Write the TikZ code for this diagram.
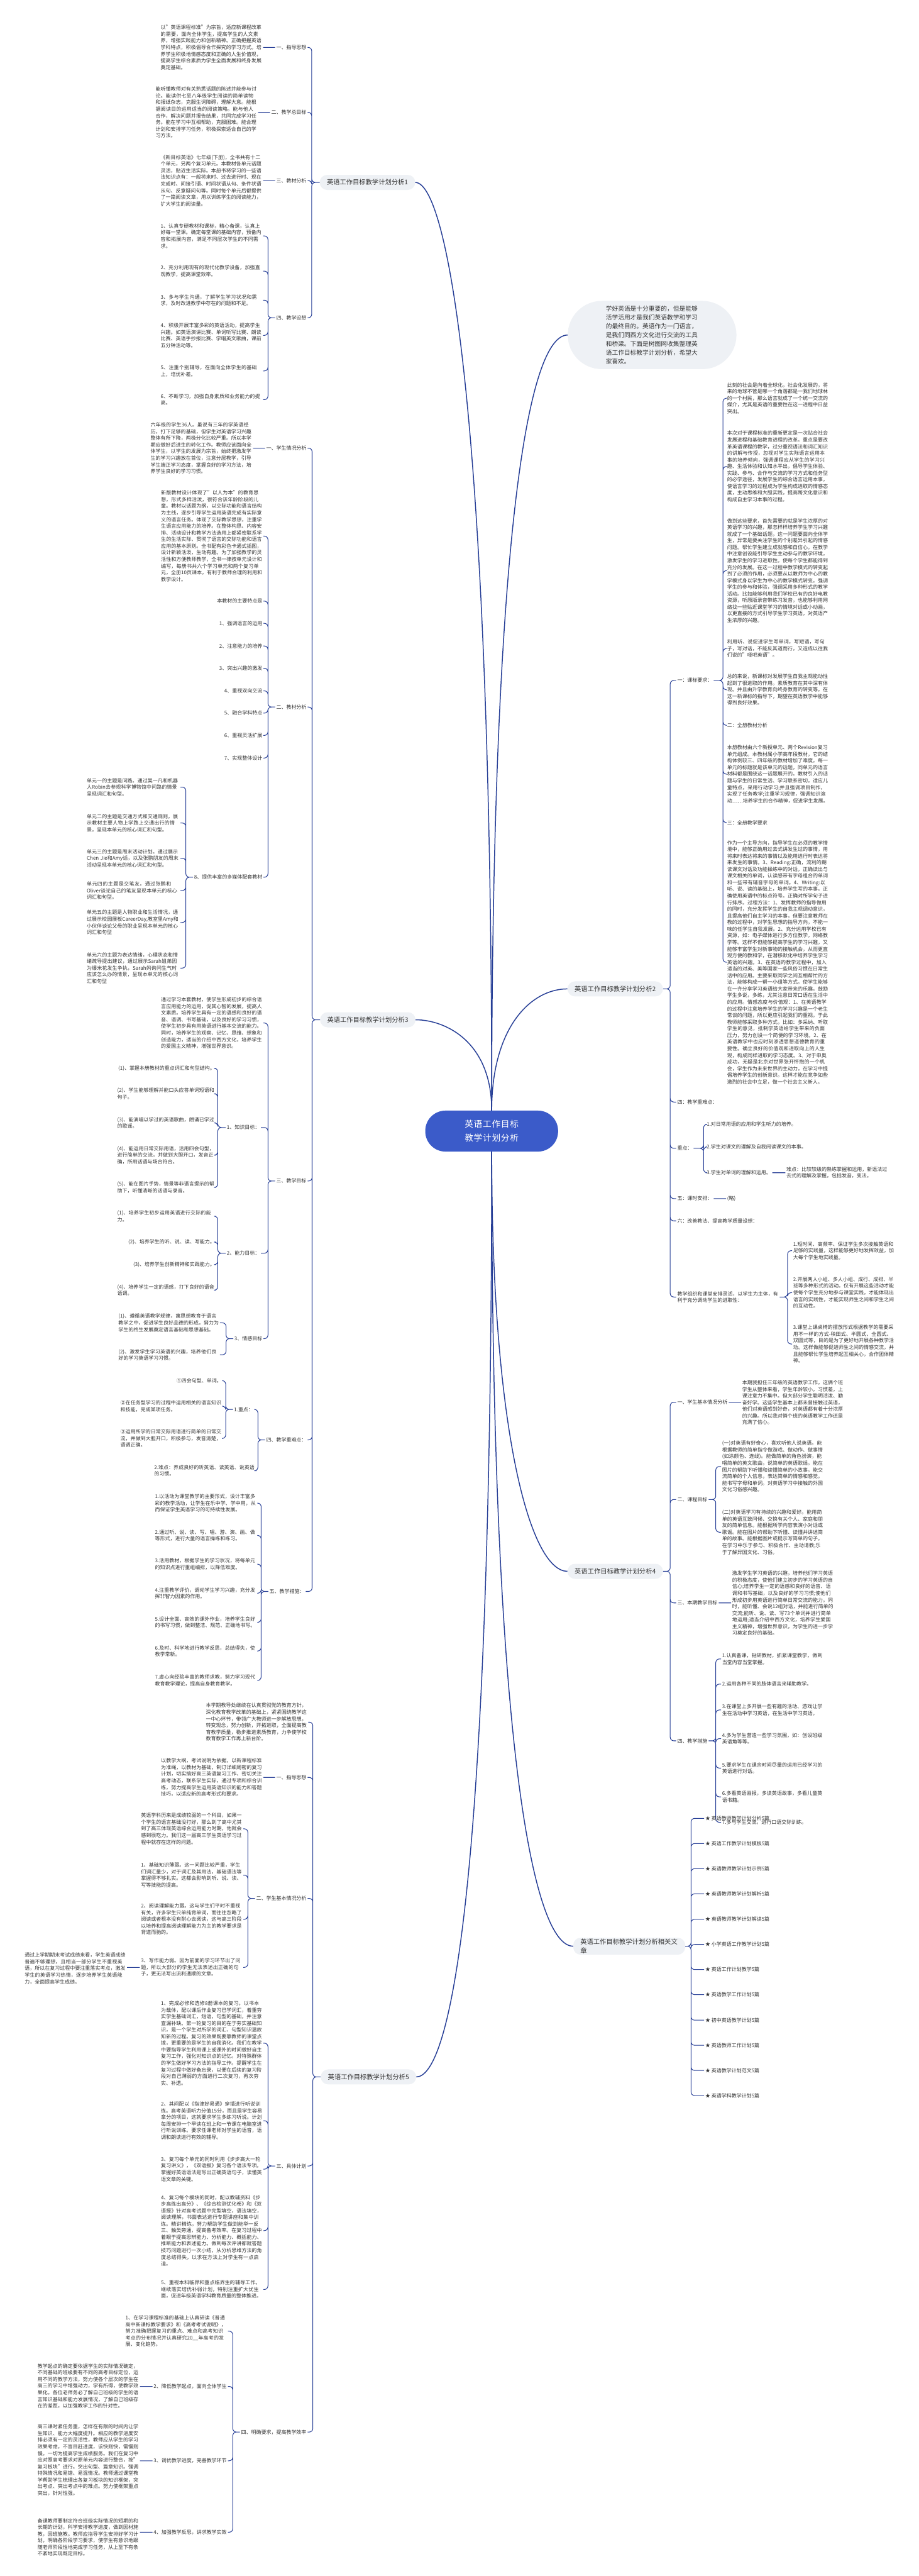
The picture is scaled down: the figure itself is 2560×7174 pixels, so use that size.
\documentclass[tikz,border=0pt]{standalone}
\usepackage{fontspec}
\setmainfont{Noto Sans CJK SC}
\XeTeXlinebreaklocale "zh"
\XeTeXlinebreakskip = 0pt plus 1pt

\definecolor{hubblue}{RGB}{59,91,201}
\definecolor{linkblue}{RGB}{38,62,150}
\definecolor{topicfill}{RGB}{238,241,245}
\definecolor{inkgray}{RGB}{51,51,51}

\tikzset{
  hub/.style={fill=hubblue, text=white, rounded corners=56pt, minimum width=370pt,
    minimum height=114pt, text width=270pt, align=center, inner sep=0pt,
    font=\fontsize{24}{38}\selectfont},
  topic/.style={fill=topicfill, text=inkgray, rounded corners=21pt, minimum height=42pt,
    inner xsep=20pt, font=\fontsize{18}{22}\selectfont},
  intro/.style={fill=topicfill, text=inkgray, rounded corners=95pt, minimum width=470pt,
    minimum height=190pt, text width=258pt, align=left, font=\fontsize{17}{24.5}\selectfont},
  sub/.style={text=inkgray, inner xsep=3pt, inner ysep=2pt, font=\fontsize{14}{18.5}\selectfont},
  note/.style={sub, text width=#1, align=left},
  note/.default=282pt,
  link/.style={draw=linkblue, line width=1.8pt, rounded corners=10pt},
  trunk/.style={draw=linkblue, line width=2.6pt},
}

\begin{document}
\begin{tikzpicture}[x=1pt,y=-1pt]
\fill[white] (0,0) rectangle (2560,7174);
\useasboundingbox (0,0) rectangle (2560,7174);

\node[hub] (hub) at (1370,3150) {英语工作目标教学计划分析};
\node[intro] (intro) at (1817,933) {学好英语是十分重要的，但是能够活学活用才是我们英语教学和学习的最终目的。英语作为一门语言，是我们同西方文化进行交流的工具和桥梁。下面是树图网收集整理英语工作目标教学计划分析，希望大家喜欢。};

% plan 1
\node[topic, anchor=east] (plan1) at (1157,508) {英语工作目标教学计划分析1};
\node[sub, anchor=east] (p1a) at (857,132) {一、指导思想};
\node[sub, anchor=east] (p1b) at (857,313) {二、教学总目标};
\node[sub, anchor=east] (p1c) at (857,503) {三、教材分析};
\node[sub, anchor=east] (p1d) at (857,885) {四、教学设想};
\node[note, anchor=east] (p1aT) at (733,132) {以"英语课程标准"为宗旨，适应新课程改革的需要，面向全体学生，提高学生的人文素养，增强实践能力和创新精神。正确把握英语学科特点，积极倡导合作探究的学习方式。培养学生积极地情感态度和正确的人生价值观，提高学生综合素质为学生全面发展和终身发展奠定基础。};
\node[note, anchor=east] (p1bT) at (719,313) {能听懂教师对有关熟悉话题的陈述并能参与讨论。能读供七至八年级学生阅读的简单读物和报纸杂志，克服生词障碍，理解大意。能根据阅读目的运用适当的阅读策略。能与他人合作，解决问题并报告结果，共同完成学习任务。能在学习中互相帮助，克服困难。能合理计划和安排学习任务，积极探索适合自己的学习方法。};
\node[note, anchor=east] (p1cT) at (733,503) {《新目标英语》七年级(下册)，全书共有十二个单元，另两个复习单元。本教材各单元话题灵活，贴近生活实际。本册书将学习的一些语法知识点有：一般将来时、过去进行时、现在完成时、间接引语、时间状语从句、条件状语从句、反意疑问句等。同时每个单元后都提供了一篇阅读文章，用以训练学生的阅读能力，扩大学生的阅读量。};
\node[note, anchor=east] (p1d1) at (733,657) {1、认真专研教材和课标，精心备课，认真上好每一堂课。确定每堂课的基础内容，预备内容和拓展内容，满足不同层次学生的不同需求。};
\node[note, anchor=east] (p1d2) at (733,755) {2、充分利用现有的现代化教学设备，加强直观教学，提高课堂效率。};
\node[note, anchor=east] (p1d3) at (733,836) {3、多与学生沟通，了解学生学习状况和需求，及时改进教学中存在的问题和不足。};
\node[note, anchor=east] (p1d4) at (733,934) {4、积极开展丰富多彩的英语活动，提高学生兴趣。如英语演讲比赛、单词听写比赛、朗读比赛、英语手抄报比赛、学唱英文歌曲，课前五分钟活动等。};
\node[note, anchor=east] (p1d5) at (733,1033) {5、注重个别辅导，在面向全体学生的基础上，培优补差。};
\node[note, anchor=east] (p1d6) at (733,1113) {6、不断学习，加强自身素质和业务能力的提高。};

\draw[link] (plan1.west) -- ++(-22,0) |- (p1a.east)
  (plan1.west) -- ++(-22,0) |- (p1b.east)
  (plan1.west) -- ++(-22,0) |- (p1c.east)
  (plan1.west) -- ++(-22,0) |- (p1d.east)
  (p1a.west) -- (p1aT.east)
  (p1b.west) -- (p1bT.east)
  (p1c.west) -- (p1cT.east)
  (p1d.west) -- ++(-20,0) |- (p1d1.east)
  (p1d.west) -- ++(-20,0) |- (p1d2.east)
  (p1d.west) -- ++(-20,0) |- (p1d3.east)
  (p1d.west) -- ++(-20,0) |- (p1d4.east)
  (p1d.west) -- ++(-20,0) |- (p1d5.east)
  (p1d.west) -- ++(-20,0) |- (p1d6.east);

% plan 3
\node[topic, anchor=east] (plan3) at (1158,2840) {英语工作目标教学计划分析3};
\node[sub, anchor=east] (p3a) at (857,1248) {一、学生情况分析};
\node[note, anchor=east] (p3aT) at (705,1248) {六年级的学生36人。虽说有三年的学英语经历，打下足够的基础，但学生对英语学习兴趣整体有所下降，两极分化比较严重。所以本学期应做好后进生的转化工作。教师应该面向全体学生，以学生的发展为宗旨，始终把激发学生的学习兴趣放在首位，注意分层教学，引导学生端正学习态度，掌握良好的学习方法，培养学生良好的学习习惯。};
\node[sub, anchor=east] (p3b) at (857,1969) {二、教材分析};
\node[note, anchor=east] (p3bT) at (734,1493) {新版教材设计体现了"以人为本"的教育思想，形式多样活泼，很符合该年龄阶段的儿童。教材以话题为纲，以交际功能和语言结构为主线，逐步引导学生运用英语完成有实际意义的语言任务。体现了交际教学思想，注重学生语言应用能力的培养。在整体构思、内容安排、活动设计和教学方法选用上都紧密联系学生的生活实际、贯彻了语言的交际功能和语言应用的基本原则。全书配有彩色卡通式插图，设计新颖活泼，生动有趣。为了加强教学的灵活性和方便教师教学，全书一律按单元设计和编写，每册书共六个学习单元和两个复习单元，全册10页课本，有利于教师合理的利用和教学设计。};
\node[sub, anchor=east] (p3b0) at (734,1674) {本教材的主要特点是};
\node[sub, anchor=east] (p3b1) at (734,1736) {1、强调语言的运用};
\node[sub, anchor=east] (p3b2) at (734,1799) {2、注意能力的培养};
\node[sub, anchor=east] (p3b3) at (734,1861) {3、突出兴趣的激发};
\node[sub, anchor=east] (p3b4) at (734,1924) {4、重视双向交流};
\node[sub, anchor=east] (p3b5) at (734,1986) {5、融合学科特点};
\node[sub, anchor=east] (p3b6) at (734,2048) {6、重视灵活扩展};
\node[sub, anchor=east] (p3b7) at (734,2111) {7、实现整体设计};
\node[sub, anchor=east] (p3b8) at (734,2443) {8、提供丰富的多媒体配套教材};
\node[note=258pt, anchor=east] (unit1) at (503,2192) {单元一的主题是问路。通过吴一凡和机器人Robin去参观科学博物馆中问路的情景呈现词汇和句型。};
\node[note=258pt, anchor=east] (unit2) at (503,2292) {单元二的主题是交通方式和交通规则，展示教材主要人物上学路上交通出行的情景，呈现本单元的核心词汇和句型。};
\node[note=258pt, anchor=east] (unit3) at (503,2390) {单元三的主题是周末活动计划。通过展示Chen Jie和Amy话，以及张鹏朋友的周末活动呈现本单元的核心词汇和句型。};
\node[note=258pt, anchor=east] (unit4) at (503,2480) {单元四的主题是交笔友，通过张鹏和Oliver谈论自己的笔友呈现本单元的核心词汇和句型。};
\node[note=258pt, anchor=east] (unit5) at (503,2569) {单元五的主题是人物职业和生活情况，通过展示校园展板CareerDay,教室里Amy和小伙伴谈论父母的职业呈现本单元的核心词汇和句型};
\node[note=258pt, anchor=east] (unit6) at (503,2696) {单元六的主题为表达情绪，心理状态和情绪疏导提出建议，通过展示Sarah姐弟因为爆米花发生争执，Sarah妈询问生气时应该怎么办的情景，呈现本单元的核心词汇和句型};
\node[sub, anchor=east] (p3c) at (857,3289) {三、教学目标};
\node[note, anchor=east] (p3cT) at (734,2849) {通过学习本套教材，使学生形成初步的综合语言应用能力的运用，促其心智的发展，提高人文素质。培养学生具有一定的语感和良好的语音、语调、书写基础，以及良好的学习习惯，使学生初步具有用英语进行基本交流的能力。同时，培养学生的观察、记忆、思维、想象和创造能力，适当的介绍中西方文化，培养学生的爱国主义精神，增强世界意识。};
\node[sub, anchor=east] (p3k) at (727,3140) {1、知识目标：};
\node[sub, anchor=east] (p3k1) at (602,2975) {(1)、掌握本册教材的重点词汇和句型结构。};
\node[note=272pt, anchor=east] (p3k2) at (602,3046) {(2)、学生能够理解并能口头应答单词短语和句子。};
\node[note=272pt, anchor=east] (p3k3) at (602,3127) {(3)、能演唱以学过的英语歌曲，朗诵已学过的歌谣。};
\node[note=272pt, anchor=east] (p3k4) at (602,3217) {(4)、能运用日常交际用语，活用四会句型，进行简单的交流，并做到大胆开口，发音正确，所用话语与场合符合。};
\node[note=272pt, anchor=east] (p3k5) at (602,3307) {(5)、能在图片手势，情景等非语言提示的帮助下，听懂清晰的话语与录音。};
\node[sub, anchor=east] (p3s) at (727,3490) {2、能力目标：};
\node[note=272pt, anchor=east] (p3s1) at (602,3387) {(1)、培养学生初步运用英语进行交际的能力。};
\node[sub, anchor=east] (p3s2) at (602,3459) {(2)、培养学生的听、说、读、写能力。};
\node[sub, anchor=east] (p3s3) at (602,3522) {(3)、培养学生创新精神和实践能力。};
\node[note=272pt, anchor=east] (p3s4) at (602,3593) {(4)、培养学生一定的语感，打下良好的语音语调。};
\node[sub, anchor=east] (p3e) at (734,3728) {3、情感目标};
\node[note=280pt, anchor=east] (p3e1) at (613,3684) {(1)、遵循英语教学规律，寓思想教育于语言教学之中，促进学生良好品德的形成，努力为学生的终生发展奠定语言基础和思想基础。};
\node[note=280pt, anchor=east] (p3e2) at (613,3773) {(2)、激发学生学习英语的兴趣，培养他们良好的学习英语学习习惯。};
\node[sub, anchor=east] (p3d) at (857,4010) {四、教学重难点：};
\node[sub, anchor=east] (p3z) at (709,3925) {1.重点：};
\node[sub, anchor=east] (p3z1) at (621,3845) {①四会句型、单词。};
\node[note, anchor=east] (p3z2) at (621,3916) {②在任务型学习的过程中运用相关的语言知识和技能，完成某项任务。};
\node[note, anchor=east] (p3z3) at (621,4006) {③运用所学的日常交际用语进行简单的日常交流，并做到大胆开口，积极参与，发音清楚，语调正确。};
\node[note, anchor=east] (p3n) at (715,4096) {2.难点：养成良好的听英语、读英语、说英语的习惯。};
\node[sub, anchor=east] (p3f) at (852,4432) {五、教学措施：};
\node[note, anchor=east] (p3f1) at (717,4186) {1.以活动为课堂教学的主要形式，设计丰富多彩的教学活动，让学生在乐中学、学中用，从而保证学生英语学习的可持续性发展。};
\node[note, anchor=east] (p3f2) at (717,4276) {2.通过听、说、读、写、唱、游、演、画、做等形式，进行大量的语言操练和练习。};
\node[note, anchor=east] (p3f3) at (717,4356) {3.活用教材，根据学生的学习状况，将每单元的知识点进行重组编排，以降低难度。};
\node[note, anchor=east] (p3f4) at (717,4437) {4.注重教学评价，调动学生学习兴趣，充分发挥非智力因素的作用。};
\node[note, anchor=east] (p3f5) at (717,4518) {5.设计全面、高效的课外作业，培养学生良好的书写习惯，做到整洁、规范、正确地书写。};
\node[note, anchor=east] (p3f6) at (717,4598) {6.及时、科学地进行教学反思，总结得失，使教学常新。};
\node[note, anchor=east] (p3f7) at (717,4680) {7.虚心向经验丰富的教师求教，努力学习现代教育教学理论，提高自身教育教学。};

\draw[link] (plan3.west) -- ++(-22,0) |- (p3a.east)
  (plan3.west) -- ++(-22,0) |- (p3b.east)
  (plan3.west) -- ++(-22,0) |- (p3c.east)
  (plan3.west) -- ++(-22,0) |- (p3d.east)
  (plan3.west) -- ++(-22,0) |- (p3f.east)
  (p3a.west) -- (p3aT.east)
  (p3b.west) -- ++(-20,0) |- (p3bT.east)
  (p3b.west) -- ++(-20,0) |- (p3b0.east)
  (p3b.west) -- ++(-20,0) |- (p3b1.east)
  (p3b.west) -- ++(-20,0) |- (p3b2.east)
  (p3b.west) -- ++(-20,0) |- (p3b3.east)
  (p3b.west) -- ++(-20,0) |- (p3b4.east)
  (p3b.west) -- ++(-20,0) |- (p3b5.east)
  (p3b.west) -- ++(-20,0) |- (p3b6.east)
  (p3b.west) -- ++(-20,0) |- (p3b7.east)
  (p3b.west) -- ++(-20,0) |- (p3b8.east)
  (p3b8.west) -- ++(-20,0) |- (unit1.east)
  (p3b8.west) -- ++(-20,0) |- (unit2.east)
  (p3b8.west) -- ++(-20,0) |- (unit3.east)
  (p3b8.west) -- ++(-20,0) |- (unit4.east)
  (p3b8.west) -- ++(-20,0) |- (unit5.east)
  (p3b8.west) -- ++(-20,0) |- (unit6.east)
  (p3c.west) -- ++(-20,0) |- (p3cT.east)
  (p3c.west) -- ++(-20,0) |- (p3k.east)
  (p3c.west) -- ++(-20,0) |- (p3s.east)
  (p3c.west) -- ++(-20,0) |- (p3e.east)
  (p3k.west) -- ++(-22,0) |- (p3k1.east)
  (p3k.west) -- ++(-22,0) |- (p3k2.east)
  (p3k.west) -- ++(-22,0) |- (p3k3.east)
  (p3k.west) -- ++(-22,0) |- (p3k4.east)
  (p3k.west) -- ++(-22,0) |- (p3k5.east)
  (p3s.west) -- ++(-22,0) |- (p3s1.east)
  (p3s.west) -- ++(-22,0) |- (p3s2.east)
  (p3s.west) -- ++(-22,0) |- (p3s3.east)
  (p3s.west) -- ++(-22,0) |- (p3s4.east)
  (p3e.west) -- ++(-20,0) |- (p3e1.east)
  (p3e.west) -- ++(-20,0) |- (p3e2.east)
  (p3d.west) -- ++(-20,0) |- (p3z.east)
  (p3d.west) -- ++(-20,0) |- (p3n.east)
  (p3z.west) -- ++(-20,0) |- (p3z1.east)
  (p3z.west) -- ++(-20,0) |- (p3z2.east)
  (p3z.west) -- ++(-20,0) |- (p3z3.east)
  (p3f.west) -- ++(-20,0) |- (p3f1.east)
  (p3f.west) -- ++(-20,0) |- (p3f2.east)
  (p3f.west) -- ++(-20,0) |- (p3f3.east)
  (p3f.west) -- ++(-20,0) |- (p3f4.east)
  (p3f.west) -- ++(-20,0) |- (p3f5.east)
  (p3f.west) -- ++(-20,0) |- (p3f6.east)
  (p3f.west) -- ++(-20,0) |- (p3f7.east);

% plan 5
\node[topic, anchor=east] (plan5) at (1160,5784) {英语工作目标教学计划分析5};
\node[note, anchor=east] (p5o) at (859,4796) {本学期教导处继续在认真贯彻党的教育方针，深化教育教学改革的基础上，紧紧围绕教学这一中心环节，带领广大教师进一步解放思想，转变观念，努力创新，开拓进取，全面提高教育教学质量，稳步推进素质教育，力争使学校教育教学工作再上新台阶。};
\node[sub, anchor=east] (p5a) at (857,4950) {一、指导思想};
\node[note, anchor=east] (p5aT) at (734,4950) {以教学大纲，考试说明为依据，以新课程标准为准绳，以教材为基础，制订详细周密的复习计划，切实搞好高三英语复习工作、密切关注高考动态，联系学生实际，通过专项和综合训练，努力提高学生运用英语知识的能力和答题技巧，以适应新的高考形式和要求。};
\node[sub, anchor=east] (p5b) at (857,5287) {二、学生基本情况分析};
\node[note, anchor=east] (p5b0) at (678,5093) {英语学科历来是成绩较弱的一个科目，如果一个学生的语言基础没打好，那么到了高中尤其到了高三体现英语综合运用能力时期，他就会感到很吃力。我们这一届高三学生英语学习过程中就存在这样的问题。};
\node[note, anchor=east] (p5b1) at (678,5222) {1、基础知识薄弱。这一问题比较严重，学生们词汇量少，对于词汇及其用法，基础语法等掌握得不够扎实。这都会影响到听、说、读、写等技能的提高。};
\node[note, anchor=east] (p5b2) at (678,5345) {2、阅读理解能力弱。这与学生们平时不重视有关，许多学生只单纯背单词，而往往忽略了阅读或者根本没有耐心去阅读，这与高三阶段以培养和提高阅读理解能力为主的教学要求是背道而驰的。};
\node[note, anchor=east] (p5b3) at (678,5479) {3、写作能力弱。因为前面的学习环节出了问题，所以大部分的学生无法表述出正确的句子，更无法写出流利通顺的文章。};
\node[note, anchor=east] (p5b3T) at (354,5482) {通过上学期期末考试成绩来看，学生英语成绩普遍不够理想，且相当一部分学生不重视英语，所以在复习过程中要注重落实考点，激发学生的英语学习热情，逐步培养学生英语能力，全面提高学生成绩。};
\node[sub, anchor=east] (p5c) at (857,6032) {三、具体计划};
\node[note, anchor=east] (p5c1) at (734,5690) {1、完成必修和选修8册课本的复习。以书本为载体，配以课后作业复习已学词汇，着重夯实学生基础词汇，短语，句型的基础，并注意查漏补缺。第一轮复习的目的在于夯实基础知识，是一个学生对所学的词汇、句型知识温故知新的过程。复习的效果既要靠教师的课堂点拨，更重要的是学生的自我消化。我们在教学中要指导学生利用课上或课外的时间做好自主复习工作，强化对知识点的记忆。对特殊群体的学生做好学习方法的指导工作。提醒学生在复习过程中做好备忘录，以便在后续的复习阶段对自己薄弱的方面进行二次复习，再次夯实、补遗。};
\node[note, anchor=east] (p5c2) at (734,5906) {2、其间配以《指津好易通》穿插进行听说训练。高考英语听力分值15分，而且是学生容易拿分的项目，这就要求学生多练习听说。计划每周安排一个早读在班上和一节课在电脑室进行听说训练。要求任课老师对学生的语音，语调和朗读进行有效的辅导。};
\node[note, anchor=east] (p5c3) at (734,6041) {3、复习每个单元的同时利用《步步高大一轮复习讲义》，《双语报》复习各个语法专项。掌握好英语语法是写出正确英语句子，读懂英语文章的关键。};
\node[note, anchor=east] (p5c4) at (734,6212) {4、复习每个模块的同时，配以教辅资料《步步高练出高分》、《综合检测优化卷》和《双语报》针对高考试题中完型填空，语法填空，阅读理解，书面表达进行专题讲座和集中训练。精讲精练，努力帮助学生做到能举一反三、触类旁通，提高备考效率。在复习过程中着眼于提高思辨能力、分析能力、概括能力、推断能力和表述能力。做到每次评讲都就答题技巧问题进行一次小结，从分析思维方法的角度总结得失，以求在方法上对学生有一点启迪。};
\node[note, anchor=east] (p5c5) at (734,6376) {5、重视本科临界和重点临界生的辅导工作。继续落实培优补弱计划，特别注重扩大优生面，促进年级英语学科教育质量的整体推进。};
\node[sub, anchor=east] (p5d) at (857,6773) {四、明确要求，提高教学效率};
\node[note, anchor=east] (p5d1) at (635,6492) {1、在学习课程标准的基础上认真研读《普通高中新课标教学要求》和《高考考试说明》，努力准确把握复习的重点、难点和高考知识考点的分布情况并认真研究20\_\_年高考的发展、变化趋势。};
\node[sub, anchor=east] (p5d2) at (635,6646) {2、降低教学起点，面向全体学生};
\node[sub, anchor=east] (p5d3) at (635,6853) {3、调优教学进度，完善教学环节};
\node[sub, anchor=east] (p5d4) at (635,7052) {4、加强教学反思，讲求教学实效};
\node[note, anchor=east] (p5d2T) at (390,6645) {教学起点的确定要依据学生的实际情况确定，不同基础的班级要有不同的高考目标定位，运用不同的教学方法，努力使各个层次的学生在高三的学习中增强动力，学有所得，使教学效果化。各位老师务必了解自己班级的学生的语言知识基础和能力发展情况，了解自己班级存在的差距，以加强教学工作的针对性。};
\node[note, anchor=east] (p5d3T) at (390,6851) {高三课时紧任务重，怎样在有限的时间内让学生知识、能力大幅度提升。相应的教学进度安排必须有一定的灵活性，教师应从学生的学习效果考虑，不盲目赶进度，该快则快，需慢则慢。一切为提高学生成绩服务。我们在复习中应对照高考要求对原单元内容进行整合，按"复习板块"进行。突出句型、篇章知识。强调特殊情况和易错、易混情况。教师通过课堂教学帮助学生梳理出各复习板块的知识框架，突出考点、突出考点中的难点。努力使框架重点突出，针对性强。};
\node[note, anchor=east] (p5d4T) at (390,7066) {备课教师要制定符合班级实际情况的短期的和长期的计划，科学安排教学进度，做到因材施教，因班施教。教师应指导学生安排好学习计划，明确各阶段学习要求，使学生有意识地跟随老师阶段性地完成学习任务，从上至下有条不紊地实现既定目标。};

\draw[link] (plan5.west) -- ++(-22,0) |- (p5o.east)
  (plan5.west) -- ++(-22,0) |- (p5a.east)
  (plan5.west) -- ++(-22,0) |- (p5b.east)
  (plan5.west) -- ++(-22,0) |- (p5c.east)
  (plan5.west) -- ++(-22,0) |- (p5d.east)
  (p5a.west) -- (p5aT.east)
  (p5b.west) -- ++(-20,0) |- (p5b0.east)
  (p5b.west) -- ++(-20,0) |- (p5b1.east)
  (p5b.west) -- ++(-20,0) |- (p5b2.east)
  (p5b.west) -- ++(-20,0) |- (p5b3.east)
  (p5b3.west) -- (p5b3.west -| p5b3T.east)
  (p5c.west) -- ++(-20,0) |- (p5c1.east)
  (p5c.west) -- ++(-20,0) |- (p5c2.east)
  (p5c.west) -- ++(-20,0) |- (p5c3.east)
  (p5c.west) -- ++(-20,0) |- (p5c4.east)
  (p5c.west) -- ++(-20,0) |- (p5c5.east)
  (p5d.west) -- ++(-20,0) |- (p5d1.east)
  (p5d.west) -- ++(-20,0) |- (p5d2.east)
  (p5d.west) -- ++(-20,0) |- (p5d3.east)
  (p5d.west) -- ++(-20,0) |- (p5d4.east)
  (p5d2.west) -- (p5d2.west -| p5d2T.east)
  (p5d3.west) -- (p5d3.west -| p5d3T.east)
  (p5d4.west) -- (p5d4.west -| p5d4T.east);

% plan 2
\node[topic, anchor=west] (plan2) at (1581,2754) {英语工作目标教学计划分析2};
\node[sub, anchor=west] (p2a) at (1884,1895) {一：课标要求：};
\node[note, anchor=west] (p2a1) at (2023,1109) {此刻的社会是向着全球化，社会化发展的，将来的地球不管是哪一个角落都是一我们地球林的一个村民，那么语言就成了一个统一交流的媒介，尤其是英语的重要性在这一进程中日益突出。};
\node[note, anchor=west] (p2a2) at (2023,1299) {本次对于课程标准的重新更定是一次贴合社会发展进程和基础教育进程的改革。重点是要改革英语课程的教学，过分重视语法和词汇知识的讲解与传授，忽视对学生实际语言运用本事的培养倾向，强调课程应从学生的学习兴趣、生活体验和认知水平出，倡导学生体验、实践、参与、合作与交流的学习方式和任务型的必学途径，发展学生的综合语言运用本事，使语言学习的过程成为学生构成进取的情感态度，主动思维和大胆实践，提高跨文化意识和构成自主学习本事的过程。};
\node[note, anchor=west] (p2a3) at (2023,1589) {做到这些要求，首先需要的就是学生浓厚的对英语学习的兴趣，那怎样样培养学生学习兴趣就成了一个基础话题，这一问题要面向全体学生，异常是要关注学生的个别差异引起的情感问题。帮忙学生建立成就感和自信心。在教学中注意创设能引导学生主动参与的教学环境，激发学生的学习进取性。使每个学生都能得到充分的发展。在这一过程中教学模式的转变起到了必须的作用，必须要从以教师为中心的教学模式身以学生为中心的教学模式转变。强调学生的参与和体验，强调采用多种形式的教学活动。比如能够利用我们学校已有的良好电教资源，听原版录音带练习发音，也能够利用网络找一些贴近课堂学习的情境对话或小动画，以更直接的方式引导学生学习英语，对英语产生浓厚的兴趣。};
\node[note, anchor=west] (p2a4) at (2023,1806) {利用听、说促进学生写单词，写短语，写句子，写对话，不能反其道而行，又造成以往我们说的"哑吧英语"。};
\node[note, anchor=west] (p2a5) at (2023,1921) {总的来说，新课标对发展学生自我主观能动性起到了很进取的作用。素质教育在其中深有体现。并且由升学教育向终身教育的转变等。在这一新课标的指导下，期望在英语教学中能够得到良好效果。};
\node[sub, anchor=west] (p2a6) at (2023,2020) {二：全册教材分析};
\node[note, anchor=west] (p2a7) at (2023,2156) {本册教材由六个新授单元、两个Revision复习单元组成。本教材属小学高年段教材，它的结构体例较三、四年级的教材增加了难度。每一单元的标题就是该单元的话题，同单元的语言材料都是围绕这一话题展开的。教材引入的话题与学生的日常生活、学习联系密切，适应儿童特点，采用行动学习;并且强调项目制作，实现了任务教学;注重学习规律，强调知识滚动……培养学生的合作精神，促进学生发展。};
\node[sub, anchor=west] (p2a8) at (2023,2291) {三：全册教学要求};
\node[note, anchor=west] (p2a9) at (2023,2680) {作为一个主导方向，指导学生在必须的教学情境中，能够正确用过去式讲发生过的事情，用将来时表达将来的事情以及能用进行时表达将来发生的事情。3、Reading:正确，流利的朗读课文对话及功能操练中的对话，正确读出与课文相关的单词，认读感带有字母组合的单词和一些带有辅音字母的单词。4、Writing:以听、说、读的基础上，培养学生写的本事。正确使用英语中的标点符号。正确对所学句子进行排序。过程方法：1、发挥教师的指导做用的同时，充分发挥学生的自我主观调动意识，且提高他们自主学习的本事，但要注意教师在教的过程中，对学生思想的指导方向，不能一味的任学生自我发展。2、充分运用学校已有资源，如：电子媒体进行多方位教学，网络教学等。这样不但能够提高学生的学习兴趣，又能够丰富学生对新事物的接触机会，从而更直观方便的教和学，在潜移默化中培养学生学习英语的兴趣。3、在英语的教学过程中，加入适当的对英、美等国家一些风俗习惯在日常生活中的应用。主要采取同学之间互相帮忙的方法，能够构成一帮一小组等方式。使学生能够在一齐分享学习英语给大家带来的乐趣。鼓励学生多说，多练，尤其注意日常口语在生活中的应用。情感态度与价值观：1、在英语教学的过程中注意培养学生的学习兴趣是一个老生常谈的问题，所以更应引起我们的重视。于此教师能够采取多种方式，比如：多采纳、听取学生的意见，抵制学英语给学生带来的负面压力，努力创设一个简便的学习环境。2、在英语教学中也应时刻渗透思想道德教育的重要性。确立良好的价值观和进取向上的人生观，构成同样进取的学习态度。3、对于申奥成功，无疑是北京对世界张开怀抱的一个机会，学生作为未来世界的主动力，在学习中提倡培养学生的创新意识。这样才能在竞争如些激烈的社会中立足，做一个社会主义新人。};
\node[sub, anchor=west] (p2b) at (1884,3069) {四：教学重难点：};
\node[sub, anchor=west] (p2c) at (1884,3198) {重点：};
\node[sub, anchor=west] (p2c1) at (1966,3131) {1.对日常用语的应用和学生听力的培养。};
\node[sub, anchor=west] (p2c2) at (1966,3194) {2.学生对课文的理解及自我阅读课文的本事。};
\node[sub, anchor=west] (p2c3) at (1966,3266) {3.学生对单词的理解和运用。};
\node[note, anchor=west] (p2c3T) at (2188,3266) {难点：比较较级的熟练掌握和运用，新语法过去式的理解及掌握，包括发音，变法。};
\node[sub, anchor=west] (p2d) at (1884,3338) {五：课时安排：};
\node[sub, anchor=west] (p2dT) at (2023,3338) {(略)};
\node[sub, anchor=west] (p2e) at (1884,3400) {六：改善教法、提高教学质量设想：};
\node[note, anchor=west] (p2f) at (1884,3612) {教学组织和课堂安排灵活，以学生为主体，有利于充分调动学生的进取性：};
\node[note, anchor=west] (p2f1) at (2207,3483) {1.短时间、高频率、保证学生多次接触英语和足够的实践量，这样能够更好地发挥效益，加大每个学生地实践量。};
\node[note, anchor=west] (p2f2) at (2207,3600) {2.开展两人小组、多人小组、成行、成排、半班等多种形式的活动。仅有开展这些活动才能使每个学生充分地参与课堂实践，才能体现出语言的实践性，才能实现师生之间和学生之间的互动性。};
\node[note, anchor=west] (p2f3) at (2207,3743) {3.课堂上课桌椅的摆放形式根据教学的需要采用不一样的方式-秧田式、半圆式、全圆式、双圆式等，目的是为了更好地开展各种教学活动。这样做能够促进师生之间的情感交流，并且能够帮忙学生培养起互相关心，合作团体精神。};

\draw[link] (plan2.east) -- ++(20,0) |- (p2a.west)
  (plan2.east) -- ++(20,0) |- (p2b.west)
  (plan2.east) -- ++(20,0) |- (p2c.west)
  (plan2.east) -- ++(20,0) |- (p2d.west)
  (plan2.east) -- ++(20,0) |- (p2e.west)
  (plan2.east) -- ++(20,0) |- (p2f.west)
  (p2a.east) -- ++(26,0) |- (p2a1.west)
  (p2a.east) -- ++(26,0) |- (p2a2.west)
  (p2a.east) -- ++(26,0) |- (p2a3.west)
  (p2a.east) -- ++(26,0) |- (p2a4.west)
  (p2a.east) -- ++(26,0) |- (p2a5.west)
  (p2a.east) -- ++(26,0) |- (p2a6.west)
  (p2a.east) -- ++(26,0) |- (p2a7.west)
  (p2a.east) -- ++(26,0) |- (p2a8.west)
  (p2a.east) -- ++(26,0) |- (p2a9.west)
  (p2c.east) -- ++(28,0) |- (p2c1.west)
  (p2c.east) -- ++(28,0) |- (p2c2.west)
  (p2c.east) -- ++(28,0) |- (p2c3.west)
  (p2c3.east) -- (p2c3T.west)
  (p2d.east) -- (p2dT.west)
  (p2f.east) -- ++(22,0) |- (p2f1.west)
  (p2f.east) -- ++(22,0) |- (p2f2.west)
  (p2f.east) -- ++(22,0) |- (p2f3.west);

% plan 4
\node[topic, anchor=west] (plan4) at (1581,4376) {英语工作目标教学计划分析4};
\node[sub, anchor=west] (p4a) at (1884,3905) {一、学生基本情况分析};
\node[note, anchor=west] (p4aT) at (2065,3906) {本期我担任三年级的英语教学工作，这俩个班学生从整体来看，学生年龄较小，习惯差，上课注意力不集中。但大部分学生聪明活泼、勤奋好学。这些学生基本上都未曾接触过英语，他们对英语感到好奇，对英语都有着十分浓厚的兴趣。所以我对俩个班的英语教学工作还是充满了信心。};
\node[sub, anchor=west] (p4b) at (1884,4176) {二、课程目标};
\node[note, anchor=west] (p4b1) at (2009,4084) {(一)对英语有好奇心，喜欢听他人说英语。能根据教师的简单指令做游戏、做动作、做事情(如涂颜色、连线)。能做简单的角色扮演，能唱简单的英文歌曲，说简单的英语歌谣。能在图片的帮助下听懂和读懂简单的小故事。能交流简单的个人信息，表达简单的情感和感觉。能书写字母和单词。对英语学习中接触的外国文化习俗感兴趣。};
\node[note, anchor=west] (p4b2) at (2009,4267) {(二)对英语学习有持续的兴趣和爱好。能用简单的英语互致问候、交换有关个人、家庭和朋友的简单信息。能根据所学内容表演小对话或歌谣。能在图片的帮助下听懂、读懂并讲述简单的故事。能根据图片或提示写简单的句子。在学习中乐于参与、积极合作、主动请教;乐于了解异国文化、习俗。};
\node[sub, anchor=west] (p4c) at (1884,4464) {三、本期教学目标};
\node[note, anchor=west] (p4cT) at (2037,4465) {激发学生学习英语的兴趣，培养他们学习英语的积极态度，使他们建立初步的学习英语的自信心;培养学生一定的语感和良好的语音、语调和书写基础，以及良好的学习习惯;使他们形成初步用英语进行简单日常交流的能力。同时，能听懂、会说12组对话，并能进行简单的交流;能听、说、读、写73个单词并进行简单地运用;适当介绍中西方文化，培养学生爱国主义精神，增强世界意识，为学生的进一步学习奠定良好的基础。};
\node[sub, anchor=west] (p4d) at (1884,4848) {四、教学措施};
\node[note, anchor=west] (p4d1) at (2009,4620) {1.认真备课，钻研教材，抓紧课堂教学，做到当堂内容当堂掌握。};
\node[note, anchor=west] (p4d2) at (2009,4690) {2.运用各种不同的肢体语言来辅助教学。};
\node[note, anchor=west] (p4d3) at (2009,4762) {3.在课堂上多开展一些有趣的活动、游戏让学生在活动中学习英语，在生活中学习英语。};
\node[note, anchor=west] (p4d4) at (2009,4842) {4.多为学生营造一些学习氛围，如：创设班级英语角等等。};
\node[note, anchor=west] (p4d5) at (2009,4924) {5.要求学生在课余时间尽量的运用已经学习的英语进行对话。};
\node[note, anchor=west] (p4d6) at (2009,5004) {6.多看英语画报，多读英语故事，多看儿童英语书籍。};
\node[note, anchor=west] (p4d7) at (2009,5075) {7.多与学生交流，进行口语交际训练。};

\draw[link] (plan4.east) -- ++(20,0) |- (p4a.west)
  (plan4.east) -- ++(20,0) |- (p4b.west)
  (plan4.east) -- ++(20,0) |- (p4c.west)
  (plan4.east) -- ++(20,0) |- (p4d.west)
  (p4a.east) -- (p4a.east -| p4aT.west)
  (p4b.east) -- ++(20,0) |- (p4b1.west)
  (p4b.east) -- ++(20,0) |- (p4b2.west)
  (p4c.east) -- (p4c.east -| p4cT.west)
  (p4d.east) -- ++(20,0) |- (p4d1.west)
  (p4d.east) -- ++(20,0) |- (p4d2.west)
  (p4d.east) -- ++(20,0) |- (p4d3.west)
  (p4d.east) -- ++(20,0) |- (p4d4.west)
  (p4d.east) -- ++(20,0) |- (p4d5.west)
  (p4d.east) -- ++(20,0) |- (p4d6.west)
  (p4d.east) -- ++(20,0) |- (p4d7.west);

% related articles
\node[topic, anchor=west, text width=272pt, align=left, font=\fontsize{18}{24}\selectfont] (related) at (1597,5420) {英语工作目标教学计划分析相关文章};
\node[sub, anchor=west] (rel1) at (1962,5064) {★ 英语教师教学计划分析5篇};
\node[sub, anchor=west] (rel2) at (1962,5134) {★ 英语工作教学计划模板5篇};
\node[sub, anchor=west] (rel3) at (1962,5204) {★ 英语教师教学计划示例5篇};
\node[sub, anchor=west] (rel4) at (1962,5274) {★ 英语教师教学计划解析5篇};
\node[sub, anchor=west] (rel5) at (1962,5345) {★ 英语教师教学计划解读5篇};
\node[sub, anchor=west] (rel6) at (1962,5415) {★ 小学英语工作教学计划5篇};
\node[sub, anchor=west] (rel7) at (1962,5485) {★ 英语工作计划教学5篇};
\node[sub, anchor=west] (rel8) at (1962,5555) {★ 英语教学工作计划5篇};
\node[sub, anchor=west] (rel9) at (1962,5626) {★ 初中英语教学计划5篇};
\node[sub, anchor=west] (rel10) at (1962,5696) {★ 英语教师工作计划5篇};
\node[sub, anchor=west] (rel11) at (1962,5766) {★ 英语教学计划范文5篇};
\node[sub, anchor=west] (rel12) at (1962,5836) {★ 英语学科教学计划5篇};

\draw[link] (related.east) -- ++(16,0) |- (rel1.west)
  (related.east) -- ++(16,0) |- (rel2.west)
  (related.east) -- ++(16,0) |- (rel3.west)
  (related.east) -- ++(16,0) |- (rel4.west)
  (related.east) -- ++(16,0) |- (rel5.west)
  (related.east) -- ++(16,0) |- (rel6.west)
  (related.east) -- ++(16,0) |- (rel7.west)
  (related.east) -- ++(16,0) |- (rel8.west)
  (related.east) -- ++(16,0) |- (rel9.west)
  (related.east) -- ++(16,0) |- (rel10.west)
  (related.east) -- ++(16,0) |- (rel11.west)
  (related.east) -- ++(16,0) |- (rel12.west);

% trunk
\draw[trunk] (hub.north) .. controls (1370,1200) and (1250,508) .. (plan1.east);
\draw[trunk] (hub.north) .. controls (1370,2900) and (1240,2840) .. (plan3.east);
\draw[trunk] (hub.north) .. controls (1370,2860) and (1480,2754) .. (plan2.west);
\draw[trunk] (hub.north) .. controls (1370,1600) and (1460,933) .. (intro.west);
\draw[trunk] (hub.south) .. controls (1370,4000) and (1480,4376) .. (plan4.west);
\draw[trunk] (hub.south) .. controls (1370,4900) and (1490,5420) .. (related.west);
\draw[trunk] (hub.south) .. controls (1370,5300) and (1250,5784) .. (plan5.east);

\end{tikzpicture}
\end{document}
